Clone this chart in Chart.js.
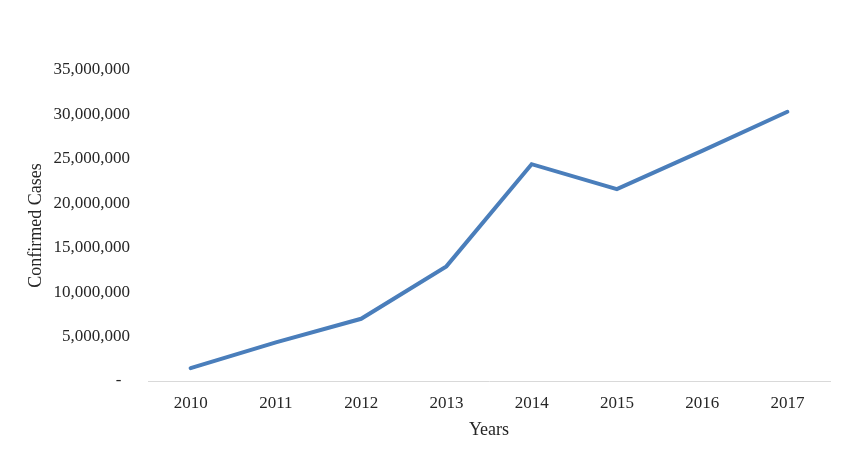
<!DOCTYPE html>
<html>
<head>
<meta charset="utf-8">
<script src="https://cdn.jsdelivr.net/npm/chart.js@4"></script>
<style>
  html, body { margin: 0; padding: 0; background: #fff; }
  #wrap { width: 850px; height: 461px; }
</style>
</head>
<body>
<div id="wrap"><canvas id="chart"></canvas></div>
<script>
const years = ["2010", "2011", "2012", "2013", "2014", "2015", "2016", "2017"];
const confirmedCases = [1450000, 4350000, 7000000, 12900000, 24400000, 21600000, 25900000, 30300000];
const yTicks = [0, 5000000, 10000000, 15000000, 20000000, 25000000, 30000000, 35000000];

const FONT = "'Liberation Serif', 'Times New Roman', serif";
const TEXT = "#262626";
const PAD_LEFT = 25;

new Chart(document.getElementById("chart"), {
    type: "line",
    data: {
        labels: years,
        datasets: [{
            label: "Confirmed Cases",
            data: confirmedCases,
            borderColor: "#4a7ebb",
            borderWidth: 4,
            borderCapStyle: "round",
            borderJoinStyle: "miter",
            pointRadius: 0,
            tension: 0,
            fill: false,
        }],
    },
    options: {
        responsive: true,
        maintainAspectRatio: false,
        animation: false,
        layout: { padding: { top: 70, right: 20, bottom: 20, left: PAD_LEFT } },
        plugins: {
            legend: { display: false },
            tooltip: { enabled: false },
        },
        scales: {
            x: {
                offset: true,
                grid: { display: false, drawTicks: false, offset: true },
                border: { display: true, color: "#d9d9d9", width: 1 },
                ticks: { color: TEXT, font: { family: FONT, size: 17 }, padding: 12, maxRotation: 0 },
                title: {
                    display: true,
                    text: "Years",
                    color: TEXT,
                    font: { family: FONT, size: 18 },
                    padding: { top: -6, bottom: 0 },
                },
            },
            y: {
                min: 0,
                max: 35000000,
                afterBuildTicks: (scale) => {
                    scale.ticks = yTicks.map(v => ({ value: v }));
                },
                afterFit: (scale) => { scale.width = 148 - PAD_LEFT; },
                grid: { display: false, drawTicks: false },
                border: { display: false },
                ticks: {
                    color: TEXT,
                    font: { family: FONT, size: 17 },
                    padding: 18,
                    callback: (v) => v === 0 ? "-  " : v.toLocaleString("en-US"),
                },
                title: {
                    display: true,
                    text: "Confirmed Cases",
                    color: TEXT,
                    font: { family: FONT, size: 18 },
                    padding: { top: 0, bottom: 0 },
                },
            },
        },
    },
});
</script>
</body>
</html>
